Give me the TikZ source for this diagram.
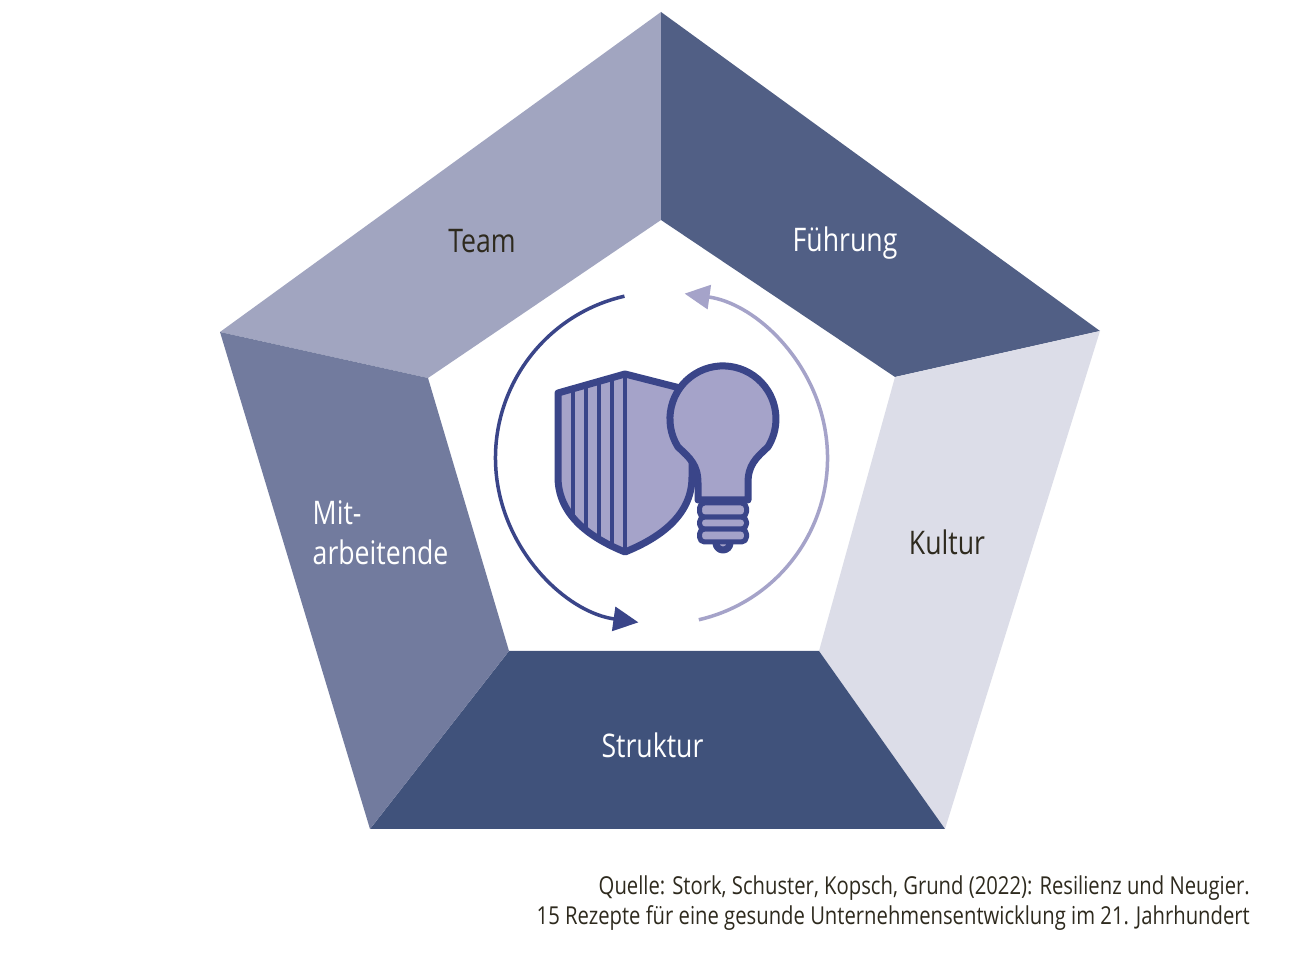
\documentclass[tikz,border=0pt]{standalone}
\usepackage{fontspec}
\setmainfont[FakeStretch=0.82]{Open Sans}
\usepackage{tikz}
\usetikzlibrary{arrows.meta}
\definecolor{teamcol}{HTML}{A1A5C0}
\definecolor{fuehrcol}{HTML}{515F85}
\definecolor{kulturcol}{HTML}{DCDDE8}
\definecolor{struktcol}{HTML}{40527B}
\definecolor{mitcol}{HTML}{727B9E}
\definecolor{iconline}{HTML}{3A4589}
\definecolor{iconfill}{HTML}{A5A3C9}
\definecolor{darktext}{HTML}{2E2A1E}
\def\shieldpath{(625,596) -- (558,577) -- (558,493)
        .. controls (558,456) and (588,433) .. (625,418)
        .. controls (662,433) and (692,456) .. (692,493)
        -- (692,560) -- (680,582) -- cycle}
\tikzset{
  x=1pt, y=1pt,
  label/.style={font=\fontsize{32.5}{40}\selectfont, text=darktext, inner sep=0pt},
  whitelabel/.style={label, text=white},
  source/.style={font=\fontsize{24.7}{30}\selectfont, text=darktext, inner sep=0pt, align=right},
  icon/.style={draw=iconline, fill=iconfill, line width=7pt, line join=round},
  thinicon/.style={icon, line width=5pt},
  loopdark/.style={draw=iconline, line width=3.5pt, -{Triangle[length=25pt,width=24pt]}},
  looplight/.style={draw=iconfill, line width=3.5pt, -{Triangle[length=25pt,width=24pt]}},
}
\begin{document}
\begin{tikzpicture}

      \useasboundingbox (0,0) rectangle (1310,970);
      \fill[white] (0,0) rectangle (1310,970);

      % outer corners
      \coordinate (otop) at (661,958);
      \coordinate (oright) at (1100,639);
      \coordinate (obr) at (945,141);
      \coordinate (obl) at (370,141);
      \coordinate (oleft) at (220,638);
      % inner corners
      \coordinate (itop) at (661,750);
      \coordinate (iright) at (895,593);
      \coordinate (ibr) at (819,319);
      \coordinate (ibl) at (509,319);
      \coordinate (ileft) at (428,592);

      \fill[teamcol] (otop) -- (itop) -- (ileft) -- (oleft) -- cycle;
      \fill[fuehrcol] (otop) -- (oright) -- (iright) -- (itop) -- cycle;
      \fill[kulturcol] (oright) -- (obr) -- (ibr) -- (iright) -- cycle;
      \fill[struktcol] (obr) -- (obl) -- (ibl) -- (ibr) -- cycle;
      \fill[mitcol] (obl) -- (oleft) -- (ileft) -- (ibl) -- cycle;

      \node[label] (team) at (482,729) {Team};
      \node[whitelabel] (fuehrung) at (845,727) {Führung};
      \node[label] (kultur) at (947,428) {Kultur};
      \node[whitelabel] (struktur) at (652.5,225) {Struktur};
      \node[whitelabel, anchor=west, align=left] (mit) at (312.5,437) {Mit-\\arbeitende};

      % circular arrows
      \draw[loopdark] (102.9:166) ++(661.5,512) arc (102.9:262:166);
      \draw[looplight] (-77:166) ++(661.5,512) arc (-77:82:166);

      % shield
      \draw[icon] \shieldpath;
      \begin{scope}
        \clip \shieldpath;
        \foreach \stripex in {573,586,599,612,625}
          \draw[draw=iconline, line width=4.5pt] (\stripex,600) -- (\stripex,415);
      \end{scope}

      % bulb
      \draw[icon] (723,427) ++(-7,0) arc (180:360:7);
      \draw[thinicon, rounded corners=5pt] (699.5,428) rectangle (746.5,441);
      \draw[thinicon, rounded corners=5pt] (699.5,441) rectangle (746.5,453);
      \draw[thinicon, rounded corners=5pt] (699.5,453) rectangle (746.5,467);
      \draw[icon] (698,470) -- (698,487) .. controls (698,505) and (690,512) .. (678,523)
        arc (212:-32:53)
        .. controls (756,512) and (748,505) .. (748,487) -- (748,470) -- cycle;

      \node[source, anchor=north east] (quelle) at (1250,94) {Quelle: Stork, Schuster, Kopsch, Grund (2022): Resilienz und Neugier.\\15 Rezepte für eine gesunde Unternehmensentwicklung im 21. Jahrhundert};
\end{tikzpicture}
\end{document}
